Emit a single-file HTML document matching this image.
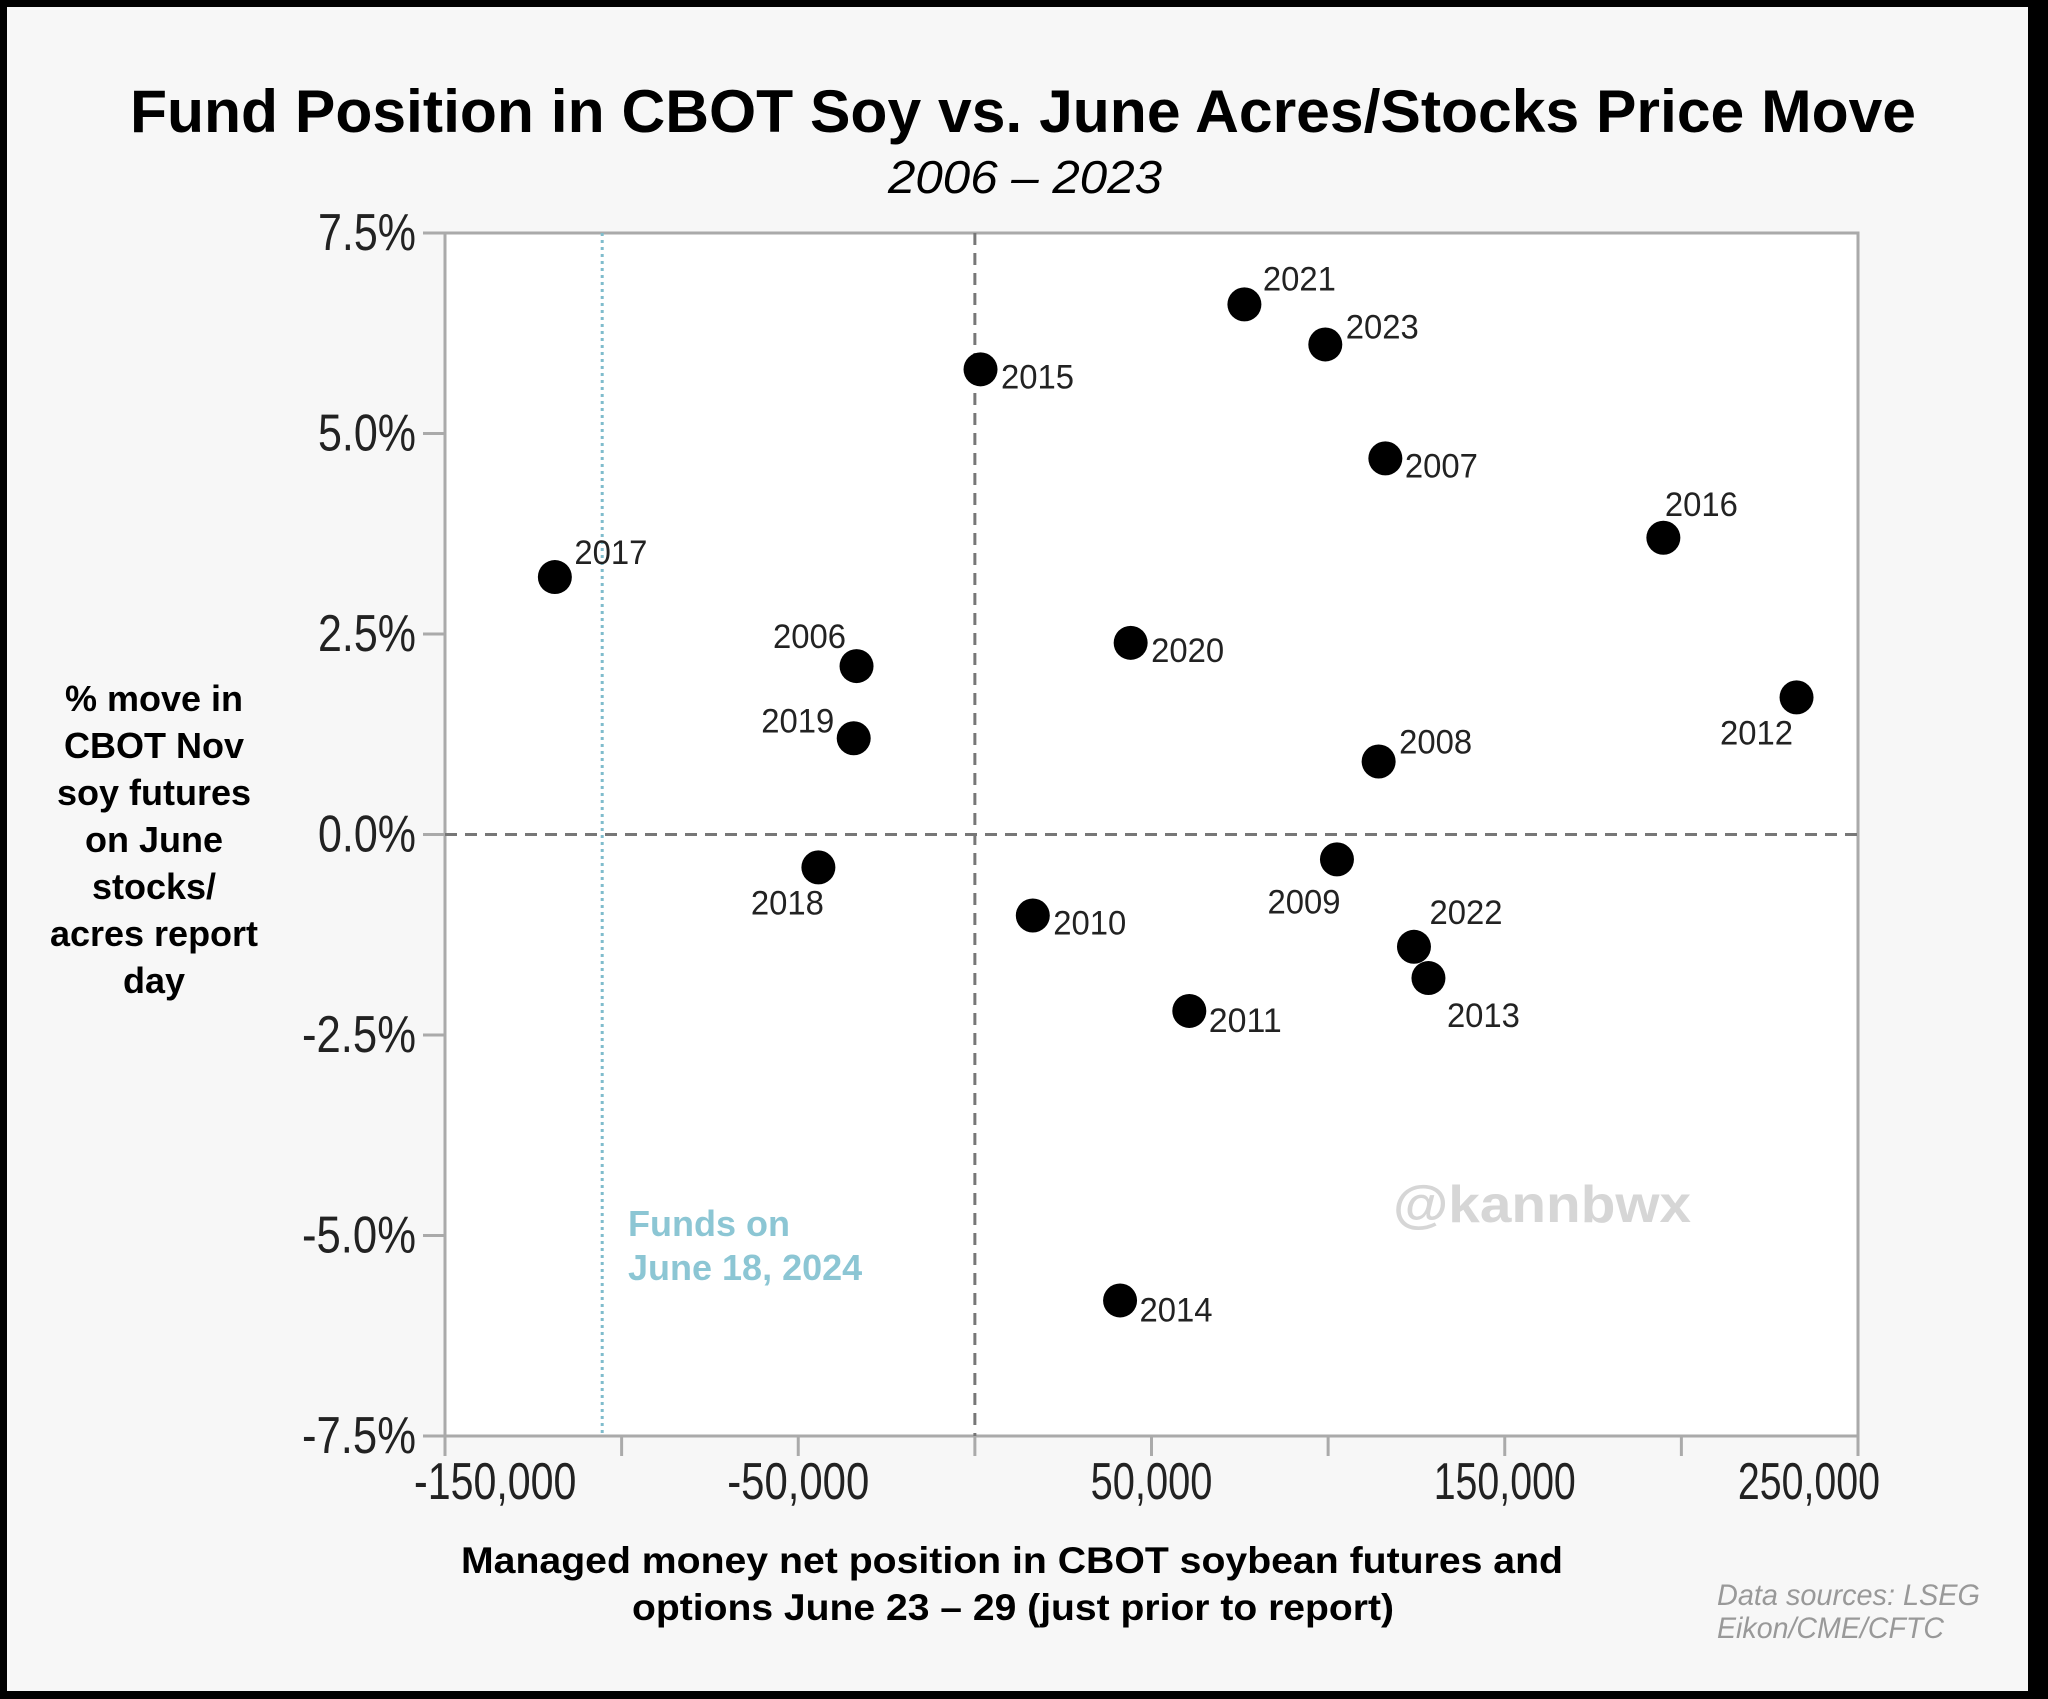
<!DOCTYPE html>
<html><head><meta charset="utf-8"><style>
html,body{margin:0;padding:0;background:#000;}
svg{display:block;}
</style></head><body>
<svg id="chart" width="2048" height="1699" viewBox="0 0 2048 1699" xmlns="http://www.w3.org/2000/svg" font-family="Liberation Sans, sans-serif">
<rect x="0" y="0" width="2048" height="1699" fill="#000"/>
<rect x="7" y="7" width="2021" height="1684" fill="#f7f7f7"/>
<text x="1023" y="132" text-anchor="middle" font-size="60" font-weight="bold" textLength="1786" lengthAdjust="spacingAndGlyphs">Fund Position in CBOT Soy vs. June Acres/Stocks Price Move</text>
<text x="1025" y="193" text-anchor="middle" font-size="46" font-style="italic" textLength="274" lengthAdjust="spacingAndGlyphs">2006 – 2023</text>
<rect x="445" y="233" width="1413" height="1203" fill="#fff" stroke="#aaa" stroke-width="3"/>
<g id="axes"></g>
<g id="marks"></g>
<g font-size="36" font-weight="bold" text-anchor="middle">
<text x="154" y="711">% move in</text>
<text x="154" y="758">CBOT Nov</text>
<text x="154" y="805">soy futures</text>
<text x="154" y="852">on June</text>
<text x="154" y="899">stocks/</text>
<text x="154" y="946">acres report</text>
<text x="154" y="993">day</text>
</g>
<text x="1012" y="1573" text-anchor="middle" font-size="37" font-weight="bold" textLength="1102" lengthAdjust="spacingAndGlyphs">Managed money net position in CBOT soybean futures and</text>
<text x="1013" y="1620" text-anchor="middle" font-size="37" font-weight="bold" textLength="762" lengthAdjust="spacingAndGlyphs">options June 23 – 29 (just prior to report)</text>
<text x="1717" y="1605" font-size="30" font-style="italic" fill="#999" textLength="263" lengthAdjust="spacingAndGlyphs">Data sources: LSEG</text>
<text x="1717" y="1638" font-size="30" font-style="italic" fill="#999" textLength="227" lengthAdjust="spacingAndGlyphs">Eikon/CME/CFTC</text>
<text x="1393" y="1222" font-size="52" font-weight="bold" fill="#d6d6d6" textLength="298" lengthAdjust="spacingAndGlyphs">@kannbwx</text>
<text x="628" y="1236" font-size="36" font-weight="bold" fill="#8cc6d4">Funds on</text>
<text x="628" y="1280" font-size="36" font-weight="bold" fill="#8cc6d4">June 18, 2024</text>
</svg>
<script>
const years = ["2017","2006","2019","2018","2015","2010","2020","2011","2014","2021","2023","2007","2008","2009","2022","2013","2016","2012"];
const positions = [-118900,-33500,-34300,-44300,1600,16400,44100,60700,41100,76300,99200,116200,114300,102500,124300,128400,194900,232600];
const moves = [3.21,2.10,1.20,-0.41,5.80,-1.01,2.39,-2.20,-5.81,6.61,6.11,4.69,0.91,-0.31,-1.40,-1.79,3.70,1.71];
const labelDx = [56,-47,-56,-31,57,57,57,56,56,55,57,56,57,-33,52,55,38,-40];
const labelDy = [-25,-30,-18,35,7,7,7,9,9,-26,-18,7,-20,42,-35,37,-34,35];
const yTicks = [7.5,5.0,2.5,0.0,-2.5,-5.0,-7.5];
const yTickLabels = ["7.5%","5.0%","2.5%","0.0%","-2.5%","-5.0%","-7.5%"];
const xTicks = [-150000,-100000,-50000,0,50000,100000,150000,200000,250000];
const xTickLabels = ["-150,000","-50,000","50,000","150,000","250,000"];
const xLabelTicks = [-150000,-50000,50000,150000,250000];
const fundsPosition = -105500;

const NS="http://www.w3.org/2000/svg";
const L=445,R=1858,T=233,B=1436;
const xScale=v=>L+(v+150000)/400000*(R-L);
const yScale=v=>T+(7.5-v)/15*(B-T);
const axes=document.getElementById('axes');
const marks=document.getElementById('marks');
function mk(tag,attrs,parent){const e=document.createElementNS(NS,tag);for(const k in attrs)e.setAttribute(k,attrs[k]);parent.appendChild(e);return e;}

yTicks.forEach((t,i)=>{
  const y=yScale(t);
  const tk=mk('line',{x1:L-22,x2:L,y1:y,y2:y,stroke:'#aaa','stroke-width':3},axes);
  
  
  const tx=mk('text',{x:416,y:y+17,'text-anchor':'end','font-size':52,fill:'#222'},axes);
  tx.textContent=yTickLabels[i];
  
  
  const s=yTickLabels[i];
  tx.setAttribute('textLength',s.length===4?98:114);tx.setAttribute('lengthAdjust','spacingAndGlyphs');
});
xTicks.forEach(t=>{
  const x=xScale(t);
  const tk=mk('line',{x1:x,x2:x,y1:B,y2:B+20,stroke:'#aaa','stroke-width':3},axes);
  
  
});
xLabelTicks.forEach((t,i)=>{
  let x=xScale(t),anchor='middle';
  if(i===0){x=414;anchor='start';}
  if(i===xLabelTicks.length-1){x=1880;anchor='end';}
  const tx=mk('text',{x:x,y:1499,'text-anchor':anchor,'font-size':52,fill:'#222'},axes);
  tx.textContent=xTickLabels[i];
  
  
  tx.setAttribute('textLength',xTickLabels[i].length*20.3);tx.setAttribute('lengthAdjust','spacingAndGlyphs');
});
const zl=mk('line',{x1:L,x2:R,y1:yScale(0),y2:yScale(0),stroke:'#777','stroke-width':3,'stroke-dasharray':'12 8'},axes);


const zv=mk('line',{x1:xScale(0),x2:xScale(0),y1:T,y2:B,stroke:'#777','stroke-width':3,'stroke-dasharray':'12 8'},axes);


const fl=mk('line',{x1:xScale(fundsPosition),x2:xScale(fundsPosition),y1:T,y2:B,stroke:'#7fbccc','stroke-width':3,'stroke-dasharray':'3 4'},axes);



years.forEach((yr,i)=>{
  const cx=xScale(positions[i]),cy=yScale(moves[i]);
  const c=mk('circle',{cx:cx,cy:cy,r:17,fill:'#000'},marks);
  
  
  const t=mk('text',{x:cx+labelDx[i],y:cy+labelDy[i]+12,'text-anchor':'middle','font-size':34,fill:'#222'},marks);
  t.textContent=yr;
  
  
  t.setAttribute('textLength',73);t.setAttribute('lengthAdjust','spacingAndGlyphs');
});
</script>
</body></html>
